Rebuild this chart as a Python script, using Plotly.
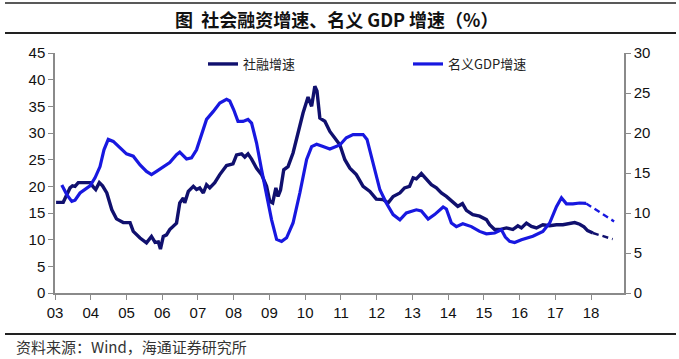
import plotly.graph_objects as go

# ---- data (decimal year, value) ----
sf_dates = [2003.03, 2003.23, 2003.42, 2003.49, 2003.56, 2003.65, 2003.79, 2003.98, 2004.07, 2004.14,
            2004.24, 2004.33, 2004.45, 2004.59, 2004.72, 2004.91, 2005.10, 2005.19, 2005.38, 2005.56,
            2005.70, 2005.80, 2005.89, 2005.95, 2006.03, 2006.12, 2006.21, 2006.40, 2006.49, 2006.59,
            2006.63, 2006.73, 2006.87, 2006.96, 2007.05, 2007.15, 2007.24, 2007.33, 2007.47, 2007.61,
            2007.80, 2007.98, 2008.08, 2008.22, 2008.31, 2008.40, 2008.50, 2008.64, 2008.78, 2008.92,
            2009.01, 2009.09, 2009.18, 2009.24, 2009.31, 2009.40, 2009.52, 2009.66, 2009.80, 2009.94,
            2010.08, 2010.18, 2010.27, 2010.33, 2010.41, 2010.55, 2010.69, 2010.83, 2010.97, 2011.11,
            2011.25, 2011.43, 2011.62, 2011.81, 2011.99, 2012.18, 2012.32, 2012.46, 2012.65, 2012.78,
            2012.92, 2013.02, 2013.11, 2013.25, 2013.39, 2013.53, 2013.67, 2013.81, 2013.95, 2014.14,
            2014.27, 2014.40, 2014.51, 2014.69, 2014.88, 2015.07, 2015.16, 2015.30, 2015.44, 2015.63,
            2015.81, 2015.95, 2016.05, 2016.19, 2016.33, 2016.47, 2016.65, 2016.84, 2017.03, 2017.21,
            2017.40, 2017.54, 2017.68, 2017.80, 2017.90, 2018.00, 2018.05]
sf_growth = [17.0, 17.0, 19.7, 20.1, 20.0, 20.7, 20.7, 20.7, 19.9, 19.4,
             20.7, 20.1, 18.75, 15.6, 13.9, 13.2, 13.2, 11.55, 10.3, 9.4,
             10.6, 9.5, 9.6, 8.25, 10.6, 10.9, 11.9, 13.1, 16.9, 17.8,
             16.9, 19.05, 20.0, 19.4, 19.7, 18.75, 20.3, 19.7, 20.7, 22.2,
             23.9, 24.2, 25.9, 26.1, 25.5, 26.1, 25.1, 23.4, 22.2, 20.0,
             17.2, 16.9, 19.7, 18.1, 19.3, 23.1, 23.7, 26.25, 30.0, 33.75,
             36.75, 35.0, 38.75, 37.9, 32.8, 32.2, 30.3, 29.1, 27.8, 25.0,
             23.4, 22.2, 20.0, 19.05, 17.6, 17.5, 16.9, 18.1, 18.75, 19.7,
             20.0, 21.6, 21.4, 22.4, 21.25, 20.3, 19.7, 18.75, 18.1, 16.9,
             16.25, 16.75, 15.5, 14.7, 14.4, 13.75, 12.8, 11.9, 11.9, 12.2,
             11.9, 12.6, 12.2, 13.1, 12.5, 12.2, 12.8, 12.6, 12.8, 12.8,
             13.1, 13.2, 12.9, 12.4, 11.7, 11.3, 11.25]

gdp_dates = [2003.19, 2003.33, 2003.47, 2003.56, 2003.70, 2003.84, 2003.98, 2004.12, 2004.26, 2004.37,
             2004.49, 2004.63, 2004.82, 2005.00, 2005.19, 2005.38, 2005.56, 2005.70, 2005.84, 2006.03,
             2006.21, 2006.40, 2006.49, 2006.68, 2006.82, 2006.96, 2007.10, 2007.24, 2007.43, 2007.61,
             2007.80, 2007.89, 2008.00, 2008.12, 2008.26, 2008.40, 2008.50, 2008.64, 2008.78, 2008.92,
             2009.06, 2009.20, 2009.34, 2009.48, 2009.66, 2009.85, 2010.04, 2010.18, 2010.32, 2010.50,
             2010.69, 2010.97, 2011.15, 2011.34, 2011.62, 2011.73, 2011.90, 2012.09, 2012.27, 2012.46,
             2012.65, 2012.83, 2013.11, 2013.25, 2013.44, 2013.62, 2013.86, 2013.95, 2014.09, 2014.23,
             2014.41, 2014.65, 2014.88, 2015.07, 2015.30, 2015.49, 2015.60, 2015.72, 2015.86, 2016.05,
             2016.37, 2016.65, 2016.84, 2017.03, 2017.17, 2017.31, 2017.49, 2017.68, 2017.86]
gdp_growth = [13.5, 12.3, 11.45, 11.6, 12.5, 13.0, 13.4, 14.4, 15.8, 17.9,
              19.2, 18.95, 18.1, 17.4, 17.1, 16.0, 15.2, 14.8, 15.2, 15.8,
              16.3, 17.3, 17.6, 16.75, 16.9, 17.9, 19.8, 21.7, 22.7, 23.75,
              24.2, 24.0, 22.9, 21.45, 21.45, 21.7, 21.25, 18.75, 15.4, 12.1,
              9.15, 6.7, 6.45, 6.9, 8.75, 12.5, 16.7, 18.3, 18.6, 18.3,
              18.0, 18.5, 19.4, 19.8, 19.8, 19.2, 16.25, 12.9, 11.25, 9.8,
              9.15, 10.0, 10.4, 10.25, 9.25, 9.8, 10.75, 10.5, 8.75, 8.3,
              8.65, 8.3, 7.7, 7.4, 7.5, 7.9, 7.0, 6.45, 6.3, 6.65,
              7.1, 7.7, 8.75, 10.8, 11.9, 11.15, 11.15, 11.25, 11.2]

# projected trends (dashed arrows)
sf_proj_dates = [2018.05, 2018.94]
sf_proj = [11.25, 9.4]
gdp_proj_dates = [2017.86, 2018.94]
gdp_proj = [11.2, 8.1]

year_ticks = list(range(2003, 2019))
year_labels = ["%02d" % (y % 100) for y in year_ticks]

NAVY = "#10106e"
BLUE = "#1818e0"
AXIS = "#8a8a8a"
FONT = "Arial, Liberation Sans, sans-serif"
CJK = "Noto Sans CJK SC"

fig = go.Figure()
fig.add_trace(go.Scatter(x=sf_dates, y=sf_growth, name="社融增速", mode="lines",
                         line=dict(color=NAVY, width=3.4), yaxis="y"))
fig.add_trace(go.Scatter(x=gdp_dates, y=gdp_growth, name="名义GDP增速", mode="lines",
                         line=dict(color=BLUE, width=3.2), yaxis="y2"))
fig.add_trace(go.Scatter(x=sf_proj_dates, y=sf_proj, mode="lines+markers", showlegend=False,
                         line=dict(color=NAVY, width=2.4, dash="6px,4px"),
                         marker=dict(symbol="arrow", angleref="previous", size=[0, 14], color=NAVY),
                         cliponaxis=False, yaxis="y"))
fig.add_trace(go.Scatter(x=gdp_proj_dates, y=gdp_proj, mode="lines+markers", showlegend=False,
                         line=dict(color=BLUE, width=2.4, dash="6px,4px"),
                         marker=dict(symbol="arrow", angleref="previous", size=[0, 14], color=BLUE),
                         cliponaxis=False, yaxis="y2"))

L, R, T, B = 55, 55, 53, 66
W, H = 679, 359
pw, ph = W - L - R, H - T - B

def px_x(p):
    return (p - L) / pw

def px_y(p):
    return (H - B - p) / ph

fig.update_layout(
    width=W, height=H,
    margin=dict(l=L, r=R, t=T, b=B),
    paper_bgcolor="white", plot_bgcolor="white",
    font=dict(family=FONT, size=15, color="#111"),
    showlegend=True,
    legend=dict(orientation="h", x=px_x(203), y=px_y(49), xanchor="left", yanchor="top",
                font=dict(family=CJK, size=13, color="#222"),
                entrywidth=160, entrywidthmode="pixels", itemwidth=30,
                bgcolor="rgba(0,0,0,0)"),
    xaxis=dict(range=[2003, 2018.92], tickvals=year_ticks, ticktext=year_labels,
               showgrid=False, zeroline=False, showline=True, linecolor=AXIS, linewidth=1.5,
               ticks="outside", ticklen=5, tickcolor=AXIS, tickfont=dict(size=15)),
    yaxis=dict(range=[0, 45], dtick=5, showgrid=False, zeroline=False, showline=True,
               linecolor=AXIS, linewidth=1.5, ticks="outside", ticklen=5, tickcolor=AXIS,
               tickfont=dict(size=15)),
    yaxis2=dict(range=[0, 30], dtick=5, overlaying="y", side="right", showgrid=False,
                zeroline=False, showline=True, linecolor=AXIS, linewidth=1.5, ticks="outside",
                ticklen=5, tickcolor=AXIS, tickfont=dict(size=15)),
    shapes=[
        dict(type="line", xref="paper", yref="paper", x0=px_x(5), x1=px_x(676),
             y0=px_y(3), y1=px_y(3), line=dict(color="#222", width=1.5)),
        dict(type="line", xref="paper", yref="paper", x0=px_x(5), x1=px_x(676),
             y0=px_y(33), y1=px_y(33), line=dict(color="#222", width=2)),
        dict(type="line", xref="paper", yref="paper", x0=px_x(5), x1=px_x(676),
             y0=px_y(334), y1=px_y(334), line=dict(color="#222", width=2)),
    ],
    annotations=[
        dict(text="图  社会融资增速、名义 GDP 增速（%）", xref="paper", yref="paper",
             x=px_x(336), y=px_y(19), showarrow=False, xanchor="center", yanchor="middle",
             font=dict(family=CJK, size=18, color="#111", weight="bold")),
        dict(text="资料来源：Wind，海通证券研究所", xref="paper", yref="paper",
             x=px_x(14), y=px_y(346), showarrow=False, xanchor="left", yanchor="middle",
             font=dict(family=CJK, size=15, color="#333")),
    ],
)

fig.write_html("out.html", config={"displayModeBar": False},
               post_script="document.body.style.margin='0';document.body.style.overflow='hidden';")
